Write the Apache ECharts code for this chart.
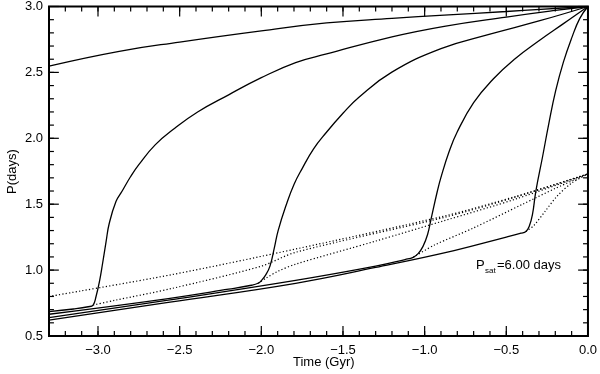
<!DOCTYPE html>
<html>
<head>
<meta charset="utf-8">
<script src="https://cdn.jsdelivr.net/npm/echarts@6/dist/echarts.min.js"></script>
<style>html,body{margin:0;padding:0;background:#fff}#c{width:600px;height:374px}</style>
</head>
<body>
<div id="c"></div>
<script>
// ---- data (Time in Gyr, P in days) ----
var xMajorTicks = [-3.0, -2.5, -2.0, -1.5, -1.0, -0.5, 0.0];
var yMajorTicks = [0.5, 1.0, 1.5, 2.0, 2.5, 3.0];

var curve1 = [[-3.3,2.548],[-2.87,2.66],[-2.5,2.73],[-2.0,2.815],[-1.6,2.875],[-1.2,2.91],[-0.88,2.935],[-0.5,2.962],[0,3.0]];
var curve2 = [[-3.3,0.685],[-3.15,0.705],[-3.06,0.722],[-3.03,0.735],[-3.012,0.80],[-2.99,0.92],[-2.972,1.05],[-2.95,1.22],[-2.932,1.35],[-2.89,1.52],[-2.852,1.60],[-2.80,1.71],[-2.75,1.80],[-2.65,1.95],[-2.53,2.076],[-2.39,2.20],[-2.2,2.33],[-2.0,2.46],[-1.79,2.575],[-1.6,2.64],[-1.2,2.77],[-0.88,2.85],[-0.5,2.92],[-0.2,2.97],[0,3.0]];
var curve3 = [[-3.3,0.665],[-2.57,0.784],[-2.2,0.855],[-2.06,0.885],[-2.02,0.90],[-2.0,0.92],[-1.975,0.96],[-1.947,1.03],[-1.92,1.17],[-1.897,1.30],[-1.846,1.50],[-1.80,1.65],[-1.75,1.77],[-1.68,1.92],[-1.605,2.04],[-1.5,2.19],[-1.404,2.31],[-1.203,2.50],[-0.9,2.68],[-0.6,2.79],[-0.3,2.89],[0,3.0]];
var curve4 = [[-3.3,0.64],[-2.57,0.772],[-1.79,0.922],[-1.3,1.03],[-1.12,1.08],[-1.07,1.097],[-1.04,1.125],[-1.01,1.18],[-0.982,1.27],[-0.962,1.38],[-0.922,1.60],[-0.901,1.70],[-0.85,1.90],[-0.80,2.05],[-0.70,2.27],[-0.58,2.45],[-0.45,2.60],[-0.3,2.74],[-0.15,2.87],[0,3.0]];
var curve5 = [[-3.3,0.62],[-2.57,0.755],[-1.79,0.90],[-1.3,1.02],[-0.82,1.148],[-0.5,1.25],[-0.41,1.28],[-0.38,1.293],[-0.36,1.33],[-0.34,1.42],[-0.319,1.60],[-0.278,1.86],[-0.24,2.11],[-0.198,2.36],[-0.15,2.58],[-0.1,2.76],[-0.05,2.91],[0,3.0]];

var dotted1 = [[-3.3,0.80],[-2.55,0.965],[-1.79,1.16],[-0.88,1.41],[-0.44,1.56],[0,1.73]];
var dotted2 = [[-3.03,0.735],[-2.9,0.77],[-2.55,0.86],[-2.0,1.03],[-1.79,1.135],[-0.88,1.40],[-0.44,1.555],[0,1.73]];
var dotted3 = [[-2.02,0.90],[-1.97,0.94],[-1.9,0.99],[-1.79,1.045],[-1.3,1.22],[-0.88,1.375],[-0.44,1.54],[0,1.73]];
var dotted4 = [[-1.07,1.097],[-0.94,1.19],[-0.7,1.32],[-0.4,1.50],[-0.2,1.62],[0,1.73]];
var dotted5 = [[-0.38,1.293],[-0.33,1.34],[-0.26,1.45],[-0.19,1.56],[-0.1,1.66],[0,1.73]];

var annotation = {p: 'P', sub: 'sat', rest: '=6.00 days'};
var xTitle = 'Time (Gyr)';
var yTitle = 'P(days)';

// ---- chart ----
var FONT = 'Liberation Sans';
var xMin = -3.3, xMax = 0, yMin = 0.5, yMax = 3.0;
var G = {left: 49, right: 4, top: 4, bottom: 38};
var W = 600 - G.left - G.right, H = 374 - G.top - G.bottom;
var xMinor = [], yMinor = [];
for (var i = -32; i <= -1; i++) xMinor.push(i / 10);
for (var j = 6; j <= 29; j++) yMinor.push(j / 10);

function fmtX(v){ return Number(v).toFixed(1).replace('-', '\u2212'); }
function fmtY(v){ return Number(v).toFixed(1); }

function solid(d){
  return {type: 'line', data: d, showSymbol: false, symbol: 'none', smooth: 0.45,
    lineStyle: {color: '#000', width: 1.3}, silent: true, animation: false};
}
function dotted(d){
  return {type: 'line', data: d, showSymbol: false, symbol: 'none', smooth: 0.3,
    lineStyle: {color: '#000', width: 1.2, type: [1.2, 2.2]}, silent: true, animation: false};
}
// tick marks drawn as short line segments in data space (length given in pixels)
function seg(a, b){
  return {type: 'line', data: [a, b], showSymbol: false, symbol: 'none', smooth: false, clip: false,
    lineStyle: {color: '#000', width: 1.2}, silent: true, animation: false, z: 5};
}
var tickSeries = [];
function addXTicks(vals, px){
  var dy = px * (yMax - yMin) / H;
  vals.forEach(function(v){
    tickSeries.push(seg([v, yMin], [v, yMin + dy]));
    tickSeries.push(seg([v, yMax], [v, yMax - dy]));
  });
}
function addYTicks(vals, px){
  var dx = px * (xMax - xMin) / W;
  vals.forEach(function(v){
    tickSeries.push(seg([xMin, v], [xMin + dx, v]));
    tickSeries.push(seg([xMax, v], [xMax - dx, v]));
  });
}
addXTicks(xMajorTicks, 10); addXTicks(xMinor, 5);
addYTicks(yMajorTicks, 10); addYTicks(yMinor, 5);

var chart = echarts.init(document.getElementById('c'), null, {renderer: 'canvas'});
chart.setOption({
  animation: false,
  grid: {left: G.left, right: G.right, top: G.top, bottom: G.bottom, show: true, borderColor: '#000', borderWidth: 2, backgroundColor: 'transparent'},
  xAxis: {
    type: 'value', min: xMin, max: xMax, interval: 0.5,
    axisLine: {show: false, onZero: false}, axisTick: {show: false}, splitLine: {show: false},
    axisLabel: {customValues: xMajorTicks, formatter: fmtX, color: '#000', fontFamily: FONT, fontSize: 13, margin: 8}
  },
  yAxis: {
    type: 'value', min: yMin, max: yMax, interval: 0.5,
    axisLine: {show: false, onZero: false}, axisTick: {show: false}, splitLine: {show: false},
    axisLabel: {formatter: fmtY, color: '#000', fontFamily: FONT, fontSize: 13, margin: 6}
  },
  series: [
    solid(curve1), solid(curve2), solid(curve3), solid(curve4), solid(curve5),
    dotted(dotted1), dotted(dotted2), dotted(dotted3), dotted(dotted4), dotted(dotted5)
  ].concat(tickSeries),
  graphic: [
    {type: 'text', left: 293, top: 356, style: {text: xTitle, fill: '#000', font: '13px "Liberation Sans"'}},
    {type: 'text', x: 6, y: 194, rotation: Math.PI / 2, style: {text: yTitle, fill: '#000', font: '13px "Liberation Sans"'}},
    {type: 'text', left: 476, top: 259, style: {text: annotation.p, fill: '#000', font: '13px "Liberation Sans"'}},
    {type: 'text', left: 485, top: 267, style: {text: annotation.sub, fill: '#000', font: '8px "Liberation Sans"'}},
    {type: 'text', left: 497, top: 259, style: {text: annotation.rest, fill: '#000', font: '13px "Liberation Sans"'}}
  ]
});
</script>
</body>
</html>
